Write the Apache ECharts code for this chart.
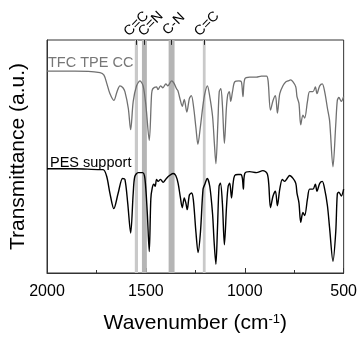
<!DOCTYPE html>
<html>
<head>
<meta charset="utf-8">
<script src="https://cdn.jsdelivr.net/npm/echarts@6/dist/echarts.min.js"></script>
<style>
  body { margin: 0; background: #fff; }
  #myChart { width: 360px; height: 339px; }
</style>
</head>
<body>
<div id="myChart"></div>
<script>
  // TFC TPE CC (grey trace)
  var grayWn = [2000,1859,1732,1712,1697,1682,1662,1646,1631,1616,1606,1589,1577,1564,1547,1530,1514,1500,1483,1471,1465,1446,1439,1426,1414,1399,1389,1370,1359,1345,1338,1328,1316,1306,1293,1280,1270,1258,1247,1237,1225,1212,1202,1189,1177,1163,1154,1146,1136,1129,1121,1113,1103,1093,1086,1078,1071,1062,1051,1029,1017,1009,1000,975,941,916,890,882,870,857,845,835,823,807,793,781,768,756,742,736,726,717,706,697,683,672,655,643,635,621,608,596,582,571,554,540,532,524,512,500];
  var grayT = [207,207,205.5,203,194,184,177,186,192,190,186,169,147,176,192,197,192,172,136,184,189,191,188,192,190,194,192,197,195,189,187,179,171,178,165,179,182,169,149,132,149,171,184,192,181,161,134,112,154,186,189,172,133,169,183,186,176,186,196,197,196,181,199,201,201,202,202,197,167,177,182,164,184,192,196,197,198,196,191,181,174,152,162,159,176,186,186,191,184,192,194,186,169,156,109,152,177,180,176,181];

  // PES support (black trace)
  var blackWn = [2000,1859,1732,1716,1698,1682,1662,1640,1618,1606,1592,1577,1564,1556,1539,1517,1505,1493,1483,1475,1468,1460,1453,1446,1438,1426,1413,1400,1387,1374,1362,1349,1337,1326,1316,1306,1298,1291,1280,1269,1260,1247,1236,1224,1211,1202,1190,1177,1163,1155,1146,1138,1130,1123,1113,1103,1092,1084,1076,1067,1059,1051,1034,1020,1012,1007,1000,975,941,908,887,879,870,857,845,835,823,810,798,786,773,756,742,736,726,717,706,697,683,672,655,643,635,621,608,596,582,571,554,540,532,524,512,500];
  var blackT = [107,107,106,106,99,82,66,82,97,96,72,41,82,99,103,103,97,62,22,76,87,91,89,96,94,96,93,96,99,101,102,100,92,78,67,77,72,65,80,82,75,42,21,42,86,91,97,89,61,32,9,46,89,92,71,29,69,89,92,77,92,100,101,101,97,86,102,104,103,105,102,92,67,79,84,69,86,96,94,97,100,97,92,82,72,52,62,59,76,86,86,91,84,92,94,86,69,46,12,42,81,83,79,86];

  // highlighted bands
  var bandLo = [1540, 1495, 1355, 1198];
  var bandHi = [1556, 1520, 1385, 1212];
  var bandColor = ['#c9c9c9', '#b5b5b5', '#b5b5b5', '#c9c9c9'];
  var bandCenter = [1548, 1508, 1370, 1205];
  var bandLabels = ['C=C', 'C=N', 'C-N', 'C=C'];
  var labelWn = [1548, 1475, 1359, 1192];

  var xTicks = [2000, 1500, 1000, 500];

  function zip(xs, ys) {
    var out = [];
    for (var i = 0; i < xs.length; i++) out.push([xs[i], ys[i]]);
    return out;
  }

  var font = 'Liberation Sans, Arial, sans-serif';
  var yMax = 239;

  var areas = [];
  var ticks = [];
  for (var i = 0; i < bandLo.length; i++) {
    areas.push([{ xAxis: bandHi[i], itemStyle: { color: bandColor[i] } }, { xAxis: bandLo[i] }]);
    ticks.push([{ coord: [bandCenter[i], yMax] }, { coord: [bandCenter[i], yMax - 5] }]);
  }

  var myChart = echarts.init(document.getElementById('myChart'));
  myChart.setOption({
    animation: false,
    textStyle: { fontFamily: font },
    grid: { left: 47, right: 16, top: 40, bottom: 60, show: true, borderColor: '#333', borderWidth: 1 },
    xAxis: {
      type: 'value',
      inverse: true,
      min: xTicks[xTicks.length - 1],
      max: xTicks[0],
      interval: 500,
      name: 'Wavenumber (cm{sup|-1})',
      nameLocation: 'middle',
      nameGap: 40,
      nameTextStyle: {
        fontSize: 21, color: '#000', fontFamily: font,
        rich: { sup: { fontSize: 13, verticalAlign: 'top', fontFamily: font, color: '#000' } }
      },
      axisLine: { show: true, lineStyle: { color: '#333' } },
      axisTick: { inside: true, length: 5, lineStyle: { color: '#333' } },
      minorTick: { show: true, splitNumber: 2, length: 3, lineStyle: { color: '#333' } },
      axisLabel: {
        fontSize: 16, color: '#000', margin: 11, fontFamily: font,
        formatter: function (v) { return String(v); }
      },
      splitLine: { show: false }
    },
    yAxis: {
      type: 'value',
      min: 0,
      max: yMax,
      name: 'Transmittance (a.u.)',
      nameLocation: 'middle',
      nameGap: 18,
      nameTextStyle: { fontSize: 21, color: '#000', fontFamily: font },
      axisLine: { show: true, lineStyle: { color: '#333' } },
      axisTick: { show: false },
      axisLabel: { show: false },
      splitLine: { show: false }
    },
    series: [
      {
        name: 'PES support',
        type: 'line',
        data: zip(blackWn, blackT),
        showSymbol: false,
        smooth: 0.3,
        z: 2,
        lineStyle: { color: '#000', width: 1.4 },
        markArea: { silent: true, data: areas },
        markLine: {
          silent: true,
          symbol: 'none',
          label: { show: false },
          lineStyle: { color: '#222', width: 1, type: 'solid' },
          data: ticks
        }
      },
      {
        name: 'TFC TPE CC',
        type: 'line',
        data: zip(grayWn, grayT),
        showSymbol: false,
        smooth: 0.3,
        z: 3,
        lineStyle: { color: '#707070', width: 1.3 }
      }
    ]
  });

  // band labels above the frame, rotated 45 degrees
  var texts = [
    { type: 'text', x: 48, y: 55, style: { text: 'TFC TPE CC', fontSize: 14.5, fontFamily: font, fill: '#777' } },
    { type: 'text', x: 50, y: 155, style: { text: 'PES support', fontSize: 14.5, fontFamily: font, fill: '#000' } }
  ];
  for (var j = 0; j < bandLabels.length; j++) {
    var p = myChart.convertToPixel({ gridIndex: 0 }, [labelWn[j], yMax]);
    texts.push({
      type: 'text',
      x: p[0],
      y: p[1] - 16,
      rotation: Math.PI / 4,
      style: {
        text: bandLabels[j], fontSize: 14, fontFamily: font, fill: '#000',
        align: 'center', verticalAlign: 'middle'
      }
    });
  }
  myChart.setOption({ graphic: texts });
</script>
</body>
</html>
